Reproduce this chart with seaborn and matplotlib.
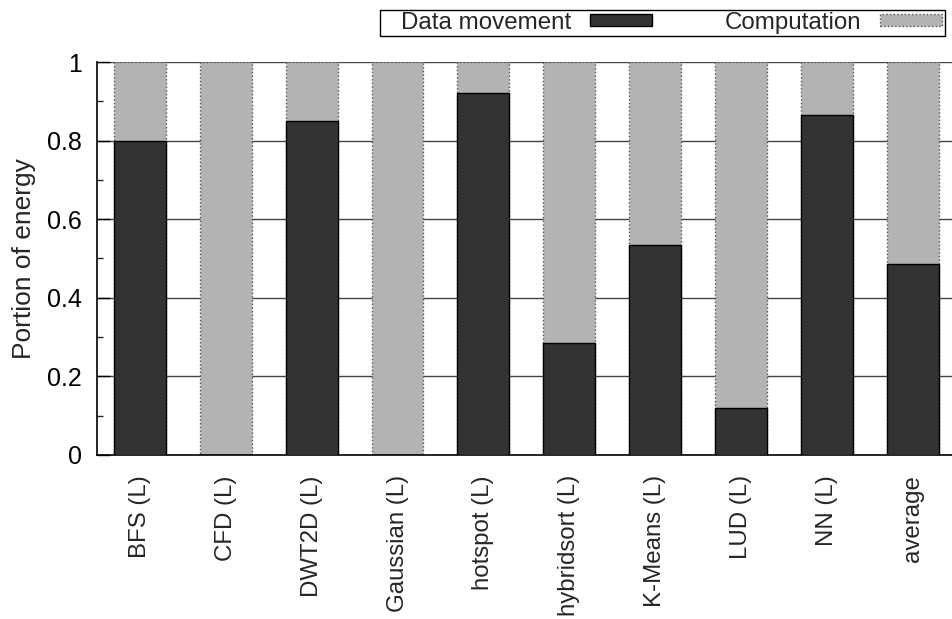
import matplotlib
matplotlib.use("Agg")
import matplotlib.pyplot as plt
import seaborn as sns
import pandas as pd
from matplotlib.patches import Patch, Rectangle
from matplotlib.ticker import MultipleLocator

categories = ["BFS (L)", "CFD (L)", "DWT2D (L)", "Gaussian (L)", "hotspot (L)",
              "hybridsort (L)", "K-Means (L)", "LUD (L)", "NN (L)", "average"]
data_movement = [0.80, 0.0, 0.85, 0.0, 0.92, 0.285, 0.535, 0.12, 0.865, 0.485]
computation = [0.20, 1.0, 0.15, 1.0, 0.08, 0.715, 0.465, 0.88, 0.135, 0.515]
y_ticks = [0, 0.2, 0.4, 0.6, 0.8, 1]
y_tick_labels = ["0", "0.2", "0.4", "0.6", "0.8", "1"]

dark = "#333333"
light = "#b3b3b3"

df = pd.DataFrame({
    "benchmark": categories,
    "data": data_movement,
    "total": [d + c for d, c in zip(data_movement, computation)],
})

sns.set_style("white")
plt.rcParams["font.family"] = ["Liberation Sans", "DejaVu Sans"]

fig = plt.figure(figsize=(9.53, 6.19), dpi=100)
ax = fig.add_axes([97 / 953, 1 - 455 / 619, 1 - 97 / 953, (455 - 62) / 619])

for y in y_ticks[1:]:
    ax.axhline(y, color="#444444", lw=1.0, zorder=0)

sns.barplot(data=df, x="benchmark", y="total", color=light, width=0.605,
            saturation=1, edgecolor="#555555", linewidth=1.0, linestyle=":",
            ax=ax, zorder=2)
sns.barplot(data=df, x="benchmark", y="data", color=dark, width=0.605,
            saturation=1, edgecolor="black", linewidth=1.0,
            ax=ax, zorder=3)

ax.set_xlim(-0.5, 9.47)
ax.set_ylim(0, 1)
ax.set_yticks(y_ticks)
ax.set_yticklabels(y_tick_labels, fontsize=18)
ax.yaxis.set_minor_locator(MultipleLocator(0.1))
ax.tick_params(axis="y", which="major", direction="in", length=9, width=1,
               left=True, pad=11, colors="black")
ax.tick_params(axis="y", which="minor", direction="in", length=4.5, width=1,
               left=True)
ax.set_xticks(range(len(categories)))
ax.set_xticklabels(categories, rotation=90, fontsize=17.3)
ax.tick_params(axis="x", bottom=False, pad=11)
ax.set_xlabel("")
ax.set_ylabel("Portion of energy", fontsize=19, labelpad=8)

for side in ["top", "right"]:
    ax.spines[side].set_visible(False)
for side in ["left", "bottom"]:
    ax.spines[side].set_color("black")
    ax.spines[side].set_linewidth(1.2)

handles = [Patch(facecolor=dark, edgecolor="black", lw=1.0, label="Data movement"),
           Patch(facecolor=light, edgecolor="#555555", lw=1.0, linestyle=":", label="Computation")]
leg = fig.legend(handles=handles, ncol=2, markerfirst=False, fontsize=17.4,
                 loc="center right", bbox_to_anchor=(942 / 953, 1 - 23 / 619),
                 frameon=False, borderpad=0, handlelength=2.55, handleheight=0.4,
                 handletextpad=0.8, columnspacing=3.0, borderaxespad=0)
fig.add_artist(Rectangle((380 / 953, 1 - 36 / 619), 565 / 953, 26 / 619,
                         transform=fig.transFigure, fill=False,
                         edgecolor="black", lw=1.0))

fig.savefig("out.png", dpi=100)
